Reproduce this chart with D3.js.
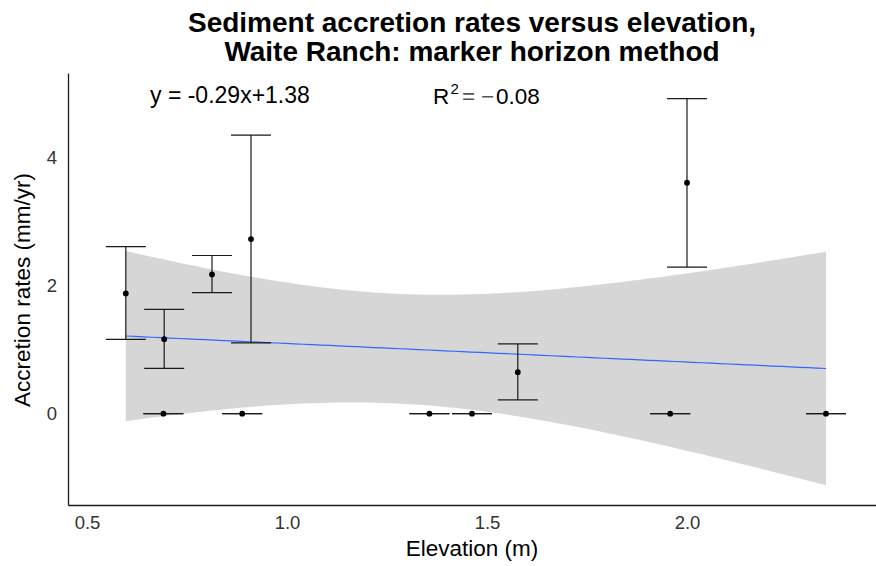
<!DOCTYPE html>
<html>
<head>
<meta charset="utf-8">
<script src="https://cdn.jsdelivr.net/npm/d3@7"></script>
<style>
  html, body { margin: 0; padding: 0; background: #fff; }
  svg { display: block; font-family: "Liberation Sans", Arial, sans-serif; }
</style>
</head>
<body>
<svg id="chart" width="876" height="566"></svg>
<script>
// ---- data ----
const elevation = [0.597, 0.693, 0.8125, 0.91, 0.691, 0.888, 1.356, 1.4625, 1.577, 2.0, 1.958, 2.3475];
const accretion = [1.878, 1.164, 2.175, 2.727, 0, 0, 0, 0, 0.648, 3.606, 0, 0];
const errLow    = [1.16, 0.706, 1.89, 1.106, 0, 0, 0, 0, 0.216, 2.29, 0, 0];
const errHigh   = [2.61, 1.63, 2.47, 4.35, 0, 0, 0, 0, 1.09, 4.92, 0, 0];
const xTicks = [0.5, 1.0, 1.5, 2.0];
const yTicks = [0, 2, 4];
const titleLines = ["Sediment accretion rates versus elevation,", "Waite Ranch: marker horizon method"];
const eqLabel = "y = -0.29x+1.38";
const r2Value = "0.08";
const xTitle = "Elevation (m)";
const yTitle = "Accretion rates (mm/yr)";

const svg = d3.select("#chart");
const x = d3.scaleLinear().domain([0.4525, 2.4725]).range([68, 876]);
const y = d3.scaleLinear().domain([-1.426, 5.32]).range([505, 73]);

// ---- linear model with 95% confidence band (as geom_smooth(method="lm")) ----
const pts = elevation.map((e, i) => ({x: e, y: accretion[i], lo: errLow[i], hi: errHigh[i]}));
const n = pts.length;
const mx = d3.mean(pts, d => d.x), my = d3.mean(pts, d => d.y);
const sxx = d3.sum(pts, d => (d.x - mx) ** 2);
const sxy = d3.sum(pts, d => (d.x - mx) * (d.y - my));
const b1 = sxy / sxx, b0 = my - b1 * mx;
const sse = d3.sum(pts, d => (d.y - (b0 + b1 * d.x)) ** 2);
const s = Math.sqrt(sse / (n - 2));
const tcrit = 2.228139; // t(0.975, df = 10)
const [xmin, xmax] = d3.extent(elevation);
const grid = d3.range(80).map(i => xmin + (xmax - xmin) * i / 79);
const fit = grid.map(gx => {
  const f = b0 + b1 * gx;
  const se = s * Math.sqrt(1 / n + (gx - mx) ** 2 / sxx);
  return {x: gx, f, lo: f - tcrit * se, hi: f + tcrit * se};
});

svg.append("path").datum(fit)
  .attr("d", d3.area().x(d => x(d.x)).y0(d => y(d.lo)).y1(d => y(d.hi)))
  .attr("fill", "#999999").attr("fill-opacity", 0.4);
svg.append("path").datum(fit)
  .attr("d", d3.line().x(d => x(d.x)).y(d => y(d.f)))
  .attr("fill", "none").attr("stroke", "#3366FF").attr("stroke-width", 1.2);

// ---- error bars ----
const capHalf = 0.05;
const eb = svg.append("g").attr("stroke", "#1a1a1a").attr("stroke-width", 1.2).attr("fill", "none");
pts.forEach(d => {
  eb.append("line").attr("x1", x(d.x)).attr("x2", x(d.x)).attr("y1", y(d.lo)).attr("y2", y(d.hi));
  eb.append("line").attr("x1", x(d.x - capHalf)).attr("x2", x(d.x + capHalf)).attr("y1", y(d.lo)).attr("y2", y(d.lo));
  eb.append("line").attr("x1", x(d.x - capHalf)).attr("x2", x(d.x + capHalf)).attr("y1", y(d.hi)).attr("y2", y(d.hi));
});
svg.append("g").selectAll("circle").data(pts).join("circle")
  .attr("cx", d => x(d.x)).attr("cy", d => y(d.y)).attr("r", 2.9).attr("fill", "#000");

// ---- axes ----
const xAxis = svg.append("g").attr("transform", "translate(0,505)")
  .call(d3.axisBottom(x).tickValues(xTicks).tickFormat(d3.format(".1f")).tickSize(0).tickSizeOuter(0).tickPadding(11));
const yAxis = svg.append("g").attr("transform", "translate(68,0)")
  .call(d3.axisLeft(y).tickValues(yTicks).tickFormat(d3.format("d")).tickSize(0).tickSizeOuter(0).tickPadding(11));
[xAxis, yAxis].forEach(a => {
  a.select(".domain").attr("stroke", "#1a1a1a").attr("stroke-width", 1.3);
  a.selectAll("text").attr("fill", "#333").attr("font-size", 18.5)
    .attr("font-family", "'Liberation Sans', Arial, sans-serif");
});

// ---- titles ----
titleLines.forEach((t, i) => {
  svg.append("text").attr("x", 472).attr("y", 32 + i * 28.5)
    .attr("text-anchor", "middle").attr("font-size", 28).attr("font-weight", "bold")
    .attr("fill", "#000").text(t);
});
svg.append("text").attr("x", 472).attr("y", 556).attr("text-anchor", "middle")
  .attr("font-size", 22.5).attr("fill", "#000").text(xTitle);
svg.append("text").attr("transform", "translate(30,290) rotate(-90)").attr("text-anchor", "middle")
  .attr("font-size", 22.5).attr("fill", "#000").text(yTitle);

// ---- annotations ----
svg.append("text").attr("x", 150).attr("y", 103).attr("font-size", 23).attr("fill", "#000").text(eqLabel);
const r2 = svg.append("g");
r2.append("text").attr("x", 433).attr("y", 104).attr("font-size", 22.5).attr("fill", "#000").text("R");
r2.append("text").attr("x", 450.5).attr("y", 94).attr("font-size", 15).attr("fill", "#000").text("2");
r2.append("text").attr("x", 462).attr("y", 104).attr("font-size", 22.5).attr("fill", "#555").text("=");
r2.append("text").attr("x", 481).attr("y", 104).attr("font-size", 22.5).attr("fill", "#555").text("\u2212");
r2.append("text").attr("x", 496).attr("y", 104).attr("font-size", 22.5).attr("fill", "#000").text(r2Value);
</script>
</body>
</html>
